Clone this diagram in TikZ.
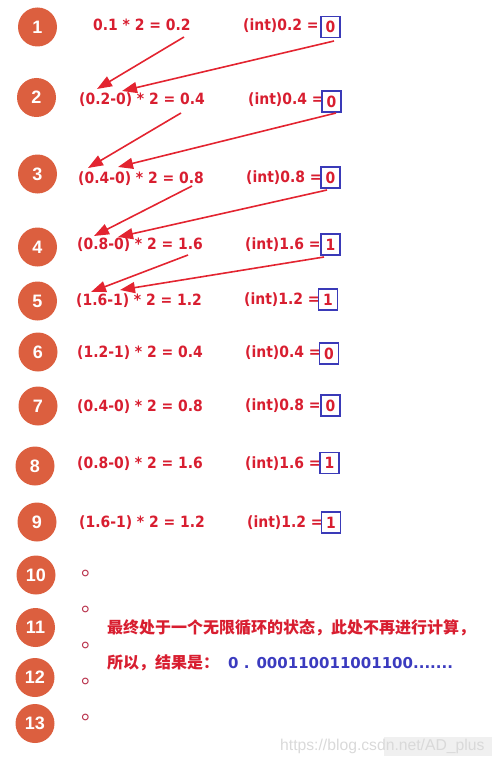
\documentclass[tikz,border=0pt]{standalone}
\usepackage{fontspec}
\setmainfont{DejaVu Sans}
\newfontfamily\condfont{DejaVu Sans Condensed}
\newfontfamily\numfont{Liberation Sans}
\newfontfamily\cjk{Noto Sans CJK SC}
\usetikzlibrary{arrows.meta}
\definecolor{circ}{HTML}{DC5F3F}
\definecolor{txtred}{HTML}{D81E30}
\definecolor{arrred}{HTML}{E32430}
\definecolor{boxblue}{HTML}{3A3AB8}
\definecolor{resblue}{HTML}{3B3BBF}
\definecolor{dotred}{HTML}{B8304A}
\begin{document}
\begin{tikzpicture}[x=1pt,y=-1pt,
  numcirc/.style={circle,fill=circ,minimum size=39pt,inner sep=0pt,text=white,font=\numfont\bfseries\fontsize{18}{18}\selectfont},
  expr/.style={anchor=west,inner sep=0pt,text height=11pt,text depth=3pt,text=txtred,font=\condfont\bfseries\fontsize{15.5}{15.5}\selectfont},
  bitbox/.style={draw=boxblue,line width=1.5pt,minimum width=19pt,minimum height=21pt,inner sep=0pt,text=txtred,font=\condfont\bfseries\fontsize{15.5}{15.5}\selectfont},
  flow/.style={draw=arrred,line width=1.6pt,-{Triangle[length=15pt,width=11pt]}},
  dotc/.style={anchor=base west,inner sep=0pt,text=dotred,font=\cjk\fontsize{22}{22}\selectfont},
  cjkline/.style={anchor=west,inner sep=0pt,text=txtred,font=\cjk\bfseries\fontsize{16}{16}\selectfont},
  result/.style={anchor=west,inner sep=0pt,text=resblue,font=\bfseries\fontsize{15}{15}\selectfont},
  ]
\useasboundingbox (0,0) rectangle (495,765);

% numbered circles
\node[numcirc] (c1) at (37.5,27) {1};
\node[numcirc] (c2) at (36.5,97.5) {2};
\node[numcirc] (c3) at (37.5,174) {3};
\node[numcirc] (c4) at (37.5,247) {4};
\node[numcirc] (c5) at (37.5,301) {5};
\node[numcirc] (c6) at (38,352) {6};
\node[numcirc] (c7) at (38,406) {7};
\node[numcirc] (c8) at (35,466) {8};
\node[numcirc] (c9) at (37,522) {9};
\node[numcirc] (c10) at (36,575) {10};
\node[numcirc] (c11) at (35.5,627.5) {11};
\node[numcirc] (c12) at (35,677.5) {12};
\node[numcirc] (c13) at (35,723.5) {13};

% rows
\node[expr] (e1) at (93,27) {0.1 * 2 = 0.2};
\node[expr] (i1) at (243,27) {(int)0.2 =};
\node[bitbox] (b1) at (330.5,27) {0};

\node[expr] (e2) at (79,101) {(0.2-0) * 2 = 0.4};
\node[expr] (i2) at (248,101) {(int)0.4 =};
\node[bitbox] (b2) at (331.5,101.5) {0};

\node[expr] (e3) at (78,179) {(0.4-0) * 2 = 0.8};
\node[expr] (i3) at (246,178) {(int)0.8 =};
\node[bitbox] (b3) at (330.5,177.5) {0};

\node[expr] (e4) at (77,245) {(0.8-0) * 2 = 1.6};
\node[expr] (i4) at (245,245) {(int)1.6 =};
\node[bitbox] (b4) at (330.5,244.5) {1};

\node[expr] (e5) at (76,301) {(1.6-1) * 2 = 1.2};
\node[expr] (i5) at (244,300) {(int)1.2 =};
\node[bitbox] (b5) at (328,299.5) {1};

\node[expr] (e6) at (77,353) {(1.2-1) * 2 = 0.4};
\node[expr] (i6) at (245,353) {(int)0.4 =};
\node[bitbox] (b6) at (329,353.5) {0};

\node[expr] (e7) at (77,407) {(0.4-0) * 2 = 0.8};
\node[expr] (i7) at (245,406) {(int)0.8 =};
\node[bitbox] (b7) at (330.5,405.5) {0};

\node[expr] (e8) at (77,464) {(0.8-0) * 2 = 1.6};
\node[expr] (i8) at (245,464) {(int)1.6 =};
\node[bitbox] (b8) at (329.5,463) {1};

\node[expr] (e9) at (79,523) {(1.6-1) * 2 = 1.2};
\node[expr] (i9) at (247,523) {(int)1.2 =};
\node[bitbox] (b9) at (331,522.5) {1};

% arrows
\coordinate (s1) at (184,37);  \coordinate (t1) at (97,89);
\coordinate (s2) at (334,41);  \coordinate (t2) at (122,91);
\coordinate (s3) at (181,113); \coordinate (t3) at (88,168);
\coordinate (s4) at (336,113); \coordinate (t4) at (118,167);
\coordinate (s5) at (192,186); \coordinate (t5) at (94,236);
\coordinate (s6) at (327,190); \coordinate (t6) at (118,237);
\coordinate (s7) at (188,255); \coordinate (t7) at (91,292);
\coordinate (s8) at (324,257); \coordinate (t8) at (120,290);
\foreach \k in {1,...,8} {\draw[flow] (s\k) -- (t\k);}

% small marks
\node[dotc] (d1) at (81.1,575.4) {。};
\node[dotc] (d2) at (81.1,611.4) {。};
\node[dotc] (d3) at (81.1,647.4) {。};
\node[dotc] (d4) at (81.1,683.4) {。};
\node[dotc] (d5) at (81.1,719.4) {。};

% conclusion text
\node[cjkline] (l1) at (107,628) {最终处于一个无限循环的状态，此处不再进行计算，};
\node[cjkline] (l2) at (107,663) {所以，结果是：};
\node[result] (res) at (228,663) {0 . 000110011001100.......};

% watermark
\fill[gray!12] (384,737) rectangle (492,756);
\node[anchor=west,inner sep=0pt,text=gray!30,font=\numfont\fontsize{15.7}{15.7}\selectfont] (wm) at (280,746) {https://blog.csdn.net/AD\_plus};
\end{tikzpicture}
\end{document}
